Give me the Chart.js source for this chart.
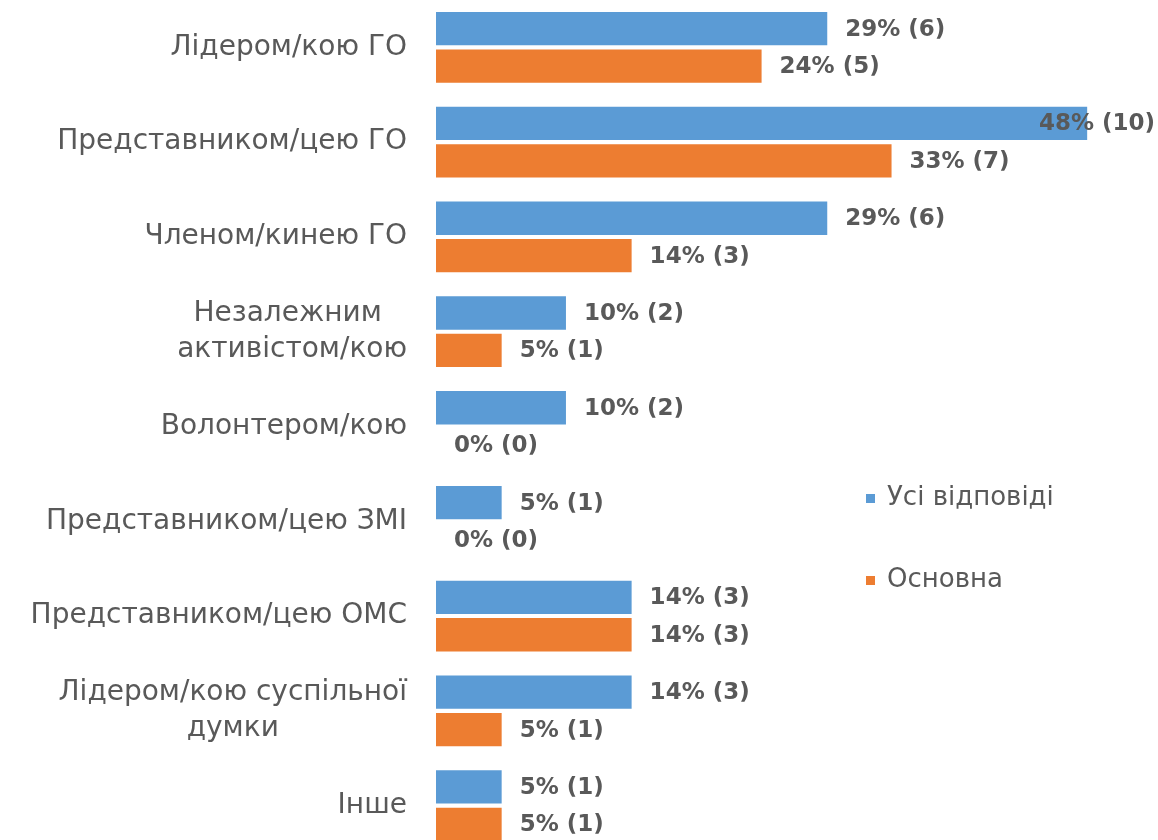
<!DOCTYPE html>
<html>
<head>
<meta charset="utf-8">
<script src="https://cdn.jsdelivr.net/npm/chart.js@4/dist/chart.umd.min.js"></script>
<style>
  html, body { margin: 0; padding: 0; background: #ffffff; overflow: hidden; }
  canvas { display: block; }
</style>
</head>
<body>
<canvas id="roleChart" width="1158" height="853"></canvas>
<script>
/*
----------------------
Дані діаграми
----------------------
*/
var categories = [
  ["Лідером/кою ГО"],
  ["Представником/цею ГО"],
  ["Членом/кинею ГО"],
  ["Незалежним ", "активістом/кою"],
  ["Волонтером/кою"],
  ["Представником/цею ЗМІ"],
  ["Представником/цею ОМС"],
  ["Лідером/кою суспільної", "думки"],
  ["Інше"]
];

var series_names = ["Усі відповіді", "Основна"];

var all_percent = [28.6, 47.6, 28.6, 9.5, 9.5, 4.8, 14.3, 14.3, 4.8];
var all_count = [6, 10, 6, 2, 2, 1, 3, 3, 1];

var main_percent = [23.8, 33.3, 14.3, 4.8, 0, 0, 14.3, 4.8, 4.8];
var main_count = [5, 7, 3, 1, 0, 0, 3, 1, 1];

var label_font = "28px 'DejaVu Sans', sans-serif";
var legend_font = "26px 'DejaVu Sans', sans-serif";
var value_font = "bold 23px 'DejaVu Sans', sans-serif";
var text_color = "#595959";

/*
----------------------
Підписи значень біля кожного стовпчика
----------------------
*/
var value_labels_plugin = {
  id: "valueLabels",
  afterDatasetsDraw: function (chart) {
    var ctx = chart.ctx;
    ctx.save();
    ctx.font = value_font;
    ctx.fillStyle = text_color;
    ctx.textBaseline = "middle";
    ctx.textAlign = "left";
    chart.data.datasets.forEach(function (dataset, d) {
      var meta = chart.getDatasetMeta(d);
      meta.data.forEach(function (bar, i) {
        var text = Math.round(dataset.data[i]) + "% (" + dataset.counts[i] + ")";
        var w = ctx.measureText(text).width;
        var x = bar.x + 18;
        if (x + w > chart.width - 3) {
          x = chart.width - 3 - w;
        }
        ctx.fillText(text, x, bar.y + 1);
      });
    });
    ctx.restore();
  }
};

/*
----------------------
Назви категорій: блок вирівняний праворуч, рядки по центру
----------------------
*/
var category_labels_plugin = {
  id: "categoryLabels",
  afterDraw: function (chart) {
    var ctx = chart.ctx;
    var y_scale = chart.scales.y;
    var right_edge = chart.chartArea.left - 29;
    var line_height = 36;
    ctx.save();
    ctx.font = label_font;
    ctx.fillStyle = text_color;
    ctx.textBaseline = "middle";
    ctx.textAlign = "center";
    categories.forEach(function (lines, i) {
      var max_w = 0;
      lines.forEach(function (line) {
        max_w = Math.max(max_w, ctx.measureText(line).width);
      });
      var cx = right_edge - max_w / 2;
      var cy = y_scale.getPixelForTick(i);
      var start = cy - (lines.length - 1) * line_height / 2;
      lines.forEach(function (line, j) {
        ctx.fillText(line, cx, start + j * line_height);
      });
    });
    ctx.restore();
  }
};

/*
----------------------
Легенда праворуч
----------------------
*/
var legend_plugin = {
  id: "sideLegend",
  afterDraw: function (chart) {
    var ctx = chart.ctx;
    var rows = [498, 580];
    ctx.save();
    ctx.font = legend_font;
    ctx.textBaseline = "middle";
    ctx.textAlign = "left";
    chart.data.datasets.forEach(function (dataset, d) {
      ctx.fillStyle = dataset.backgroundColor;
      ctx.fillRect(866, rows[d] - 4, 9, 9);
      ctx.fillStyle = text_color;
      ctx.fillText(dataset.label, 887, rows[d]);
    });
    ctx.restore();
  }
};

var context = document.getElementById("roleChart").getContext("2d");

var role_chart = new Chart(context, {
  type: "bar",
  data: {
    labels: categories,
    datasets: [
      {
        label: series_names[0],
        data: all_percent,
        counts: all_count,
        backgroundColor: "#5B9BD5",
        categoryPercentage: 0.79,
        barPercentage: 0.89
      },
      {
        label: series_names[1],
        data: main_percent,
        counts: main_count,
        backgroundColor: "#ED7D31",
        categoryPercentage: 0.79,
        barPercentage: 0.89
      }
    ]
  },
  options: {
    indexAxis: "y",
    responsive: false,
    animation: false,
    layout: {
      padding: { left: 0, right: 38, top: 0, bottom: 0 }
    },
    scales: {
      x: {
        display: false,
        min: 0,
        max: 50
      },
      y: {
        display: true,
        grid: { display: false },
        border: { display: false },
        ticks: { display: false },
        afterFit: function (scale) {
          scale.width = 436;
        }
      }
    },
    plugins: {
      legend: { display: false },
      tooltip: { enabled: false }
    }
  },
  plugins: [value_labels_plugin, category_labels_plugin, legend_plugin]
});
</script>
</body>
</html>
